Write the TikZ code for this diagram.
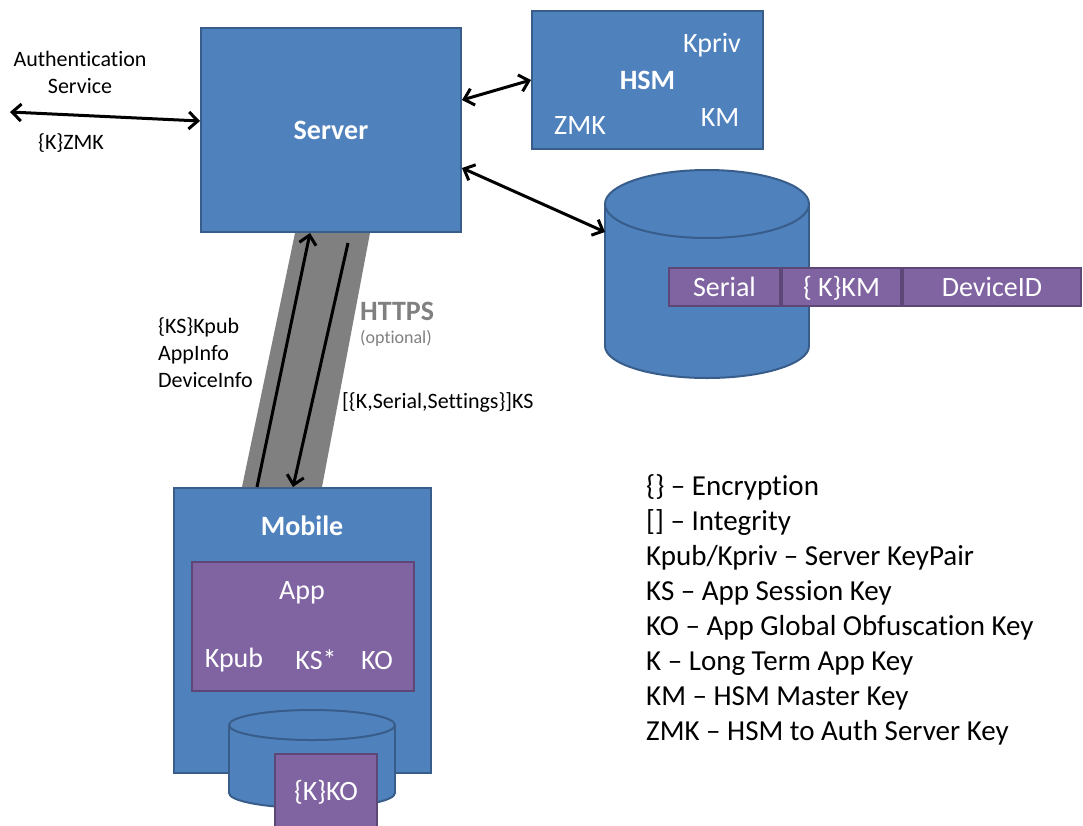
\documentclass[tikz,border=0pt]{standalone}
\usepackage{fontspec}
\setmainfont[Ligatures={TeX,NoCommon},RawFeature={-liga;-clig;-calt;-dlig}]{Carlito}
\usetikzlibrary{arrows.meta,positioning}
\definecolor{bluefill}{HTML}{4F81BD}
\definecolor{blueline}{HTML}{385D8A}
\definecolor{purplefill}{HTML}{8064A2}
\definecolor{purpleline}{HTML}{5C4776}
\definecolor{bandgray}{HTML}{808080}
\tikzset{box/.style={draw=blueline,fill=bluefill,line width=2pt,text=white,font=\fontsize{28}{34}\selectfont\bfseries},
	cell/.style={draw=purpleline,fill=purplefill,line width=2pt,text=white,font=\fontsize{28}{34}\selectfont,minimum height=38pt,text height=22pt,text depth=3pt},
	key/.style={text=white,font=\fontsize{28}{34}\selectfont,inner sep=0pt},
	title/.style={text=white,font=\fontsize{28}{34}\selectfont\bfseries,inner sep=0pt},
	lbl/.style={font=\fontsize{22}{27}\selectfont,inner sep=0pt},
	cyl/.style={draw=blueline,line width=2pt},
	link/.style={line width=3pt}}

\begin{document}
\begin{tikzpicture}[x=1pt,y=-1pt,>={Straight Barb[length=9pt,width=17pt]}]
\useasboundingbox (0,0) rectangle (1083,825);
\node [box,minimum width=260pt,minimum height=204pt] (srv) at (331,130) {Server};
\node [box,minimum width=231pt,minimum height=138pt] (hsm) at (647.5,80) {HSM};
\node [key] (kpriv) at (712,45) {Kpriv};
\node [key] (hzmk) at (580,126) {ZMK};
\node [key] (hkm) at (720,118) {KM};
\filldraw [cyl,fill=bluefill] (707,346) ellipse [x radius=102pt,y radius=32pt];
\fill [bluefill] (605,204) rectangle (809,346);
\draw [cyl] (605,204) -- (605,346) (809,204) -- (809,346);
\filldraw [cyl,fill=bluefill] (707,204) ellipse [x radius=102pt,y radius=34pt];
\coordinate (dbin) at (605,232);
\node [cell,minimum width=111pt] (ser) at (724.5,286.5) {Serial};
\node [cell,minimum width=119pt,right=0pt of ser] (kkm) {\{ K\}KM};
\node [cell,minimum width=178pt,right=0pt of kkm] (dev) {DeviceID};
\node [box,minimum width=257pt,minimum height=285pt] (mob) at (302.5,630.5) {};
\node [title] (mtitle) at (302,526) {Mobile};
\node [cell,minimum width=222pt,minimum height=129pt] (app) at (302.5,626) {};
\node [key] (atitle) at (302,593) {App};
\node [key] (kpub) at (234,660) {Kpub};
\node [key] (ks) at (316,660) {KS*};
\node [key] (ko) at (377,660) {KO};
\filldraw [cyl,fill=bluefill] (312,793) ellipse [x radius=83pt,y radius=15pt];
\fill [bluefill] (229,725) rectangle (395,793);
\draw [cyl] (229,725) -- (229,793) (395,725) -- (395,793);
\filldraw [cyl,fill=bluefill] (312,725) ellipse [x radius=83pt,y radius=15pt];
\node [cell,minimum width=102pt,minimum height=76pt,text height=,text depth=] (kko) at (326,792) {\{K\}KO};
\fill [bandgray] ([xshift=-36pt]srv.south) -- ([xshift=39pt]srv.south)
  -- ([xshift=19.5pt]mob.north) -- ([xshift=-60.5pt]mob.north) -- cycle;
\draw [link,->] ([xshift=-45.5pt]mob.north) -- ([xshift=-21pt]srv.south);
\draw [link,->] ([xshift=17pt,yshift=-10pt]srv.south) -- ([xshift=-9.5pt]mob.north);
\node [lbl,align=center] (asvc) at (80,72.5) {Authentication\\Service};
\coordinate (auth) at (10,112);
\node [lbl] (zmk) at (71,143) {\{K\}ZMK};
\draw [link,<->] (auth) -- ([yshift=9pt]srv.west);
\draw [link,<->] ([yshift=30pt]srv.east) -- (hsm.west);
\draw [link,<->] ([yshift=-38pt]srv.east) -- (dbin);
\node [lbl,align=left,anchor=west] (req) at (158,353) {\{KS\}Kpub\\AppInfo\\DeviceInfo};
\node [anchor=west,inner sep=0pt,text=bandgray,font=\fontsize{28}{34}\selectfont\bfseries] (https) at (360,311) {HTTPS};
\node [anchor=west,inner sep=0pt,text=gray,font=\fontsize{18}{22}\selectfont] (opt) at (360,338) {(optional)};
\node [lbl,anchor=west] (resp) at (342,402) {[\{K,Serial,Settings\}]KS};
\node [anchor=north west,align=left,inner sep=0pt,font=\fontsize{29}{35}\selectfont] (legend) at (646,474)
  {\{\} -- Encryption\\{}[] -- Integrity\\Kpub/Kpriv -- Server KeyPair\\KS -- App Session Key\\KO -- App Global Obfuscation Key\\K -- Long Term App Key\\KM -- HSM Master Key\\ZMK -- HSM to Auth Server Key};
\end{tikzpicture}
\end{document}
